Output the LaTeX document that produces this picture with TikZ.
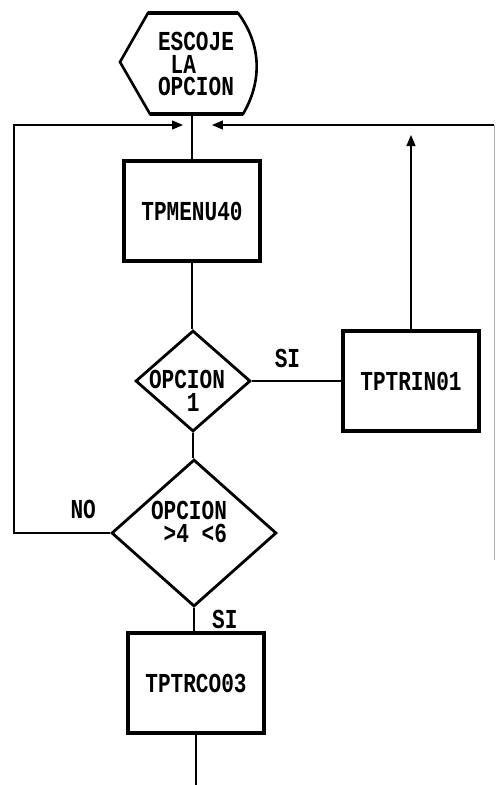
\documentclass[tikz,border=0pt]{standalone}
\usepackage{fontspec}
\newfontfamily\printfont{Liberation Mono}
\usetikzlibrary{shapes.geometric, arrows.meta, positioning, calc}
\newcommand{\tall}[1]{\scalebox{1}[1.3]{#1}}

\begin{document}
\begin{tikzpicture}[
    x=0.02cm, y=-0.02cm,
    prt/.style={font=\printfont\bfseries\fontsize{12}{13}\selectfont, inner sep=0pt},
    box/.style={rectangle, draw, line width=2.4pt, minimum width=2.72cm, minimum height=2.0cm, prt},
    dec/.style={diamond, draw, line width=1.6pt, inner sep=0pt},
    line/.style={line width=0.7pt},
    arr/.style={-{Triangle[length=2.2mm, width=1.8mm]}, line width=0.7pt}
]
\useasboundingbox (0,0) rectangle (497,785);

\draw[line width=1.5pt] (120,62) -- (148,13) -- (238,13) .. controls (262,45) and (262,82) .. (243,114) -- (150,114) -- cycle;
\draw[line width=2.4pt] (148,13) -- (238,13) (150,114) -- (243,114);
\node[prt, align=left] (disp) at (196,64) {\tall{ESCOJE}\\\hspace*{0.6em}\tall{LA}\\\tall{OPCION}};
\coordinate (dispS) at (192,114);

\node[box] (menu) at (192,211) {\tall{TPMENU40}};
\node[dec, minimum width=2.3cm, minimum height=2.02cm] (op1) at (193,381) {};
\node[prt, align=left] (op1t) at (187,391) {\tall{OPCION}\\\hspace*{1.8em}\tall{1}};
\node[box] (rin) at (411,381) {\tall{TPTRIN01}};
\node[dec, minimum width=3.3cm, minimum height=2.94cm] (op2) at (194,533) {};
\node[prt, align=left] (op2t) at (189,522) {\tall{OPCION}\\\hspace*{0.6em}\tall{>4 <6}};
\node[box] (co) at (196,683) {\tall{TPTRCO03}};

\coordinate (endS) at (196,785);
\coordinate (rinUp) at (411,135);
\coordinate (loopL) at (14,125);
\coordinate (retL) at (183,125);
\coordinate (loopR) at (494,125);
\coordinate (retR) at (212,125);
\coordinate (edgeR) at (494,560);

\draw[line] (dispS) -- (dispS |- menu.north);
\draw[line] (menu.south) -- (menu.south |- op1.north);
\draw[line] (op1.south) -- (op1.south |- op2.north);
\draw[line] (op2.south) -- node[prt, right=10pt] {\tall{SI}} (op2.south |- co.north);
\draw[line] (co.south) -- (endS);
\draw[line] (op1.east) -- node[prt, above=7pt, pos=0.4] {\tall{SI}} (rin.west);
\draw[arr] (rin.north) -- (rinUp);
\draw[arr] (op2.west) -| node[prt, above=8pt, pos=0.14] {\tall{NO}} (loopL) -- (retL);
\draw[arr] (loopR) -- (retR);
\draw[gray!60, line width=0.5pt] (edgeR) -- (loopR);
\end{tikzpicture}
\end{document}
